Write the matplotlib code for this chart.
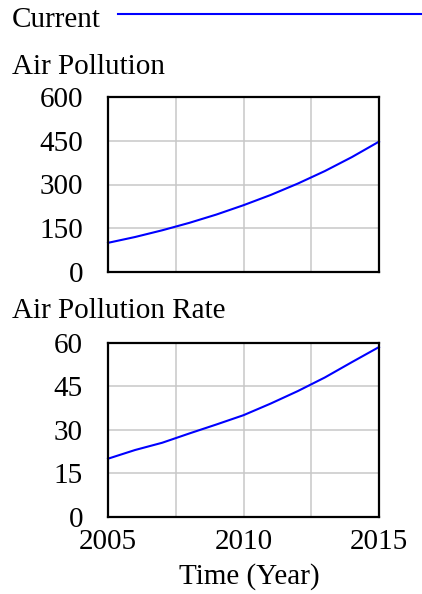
import matplotlib
matplotlib.use("Agg")
import matplotlib.pyplot as plt
from matplotlib.lines import Line2D

years = [2005, 2006, 2007, 2008, 2009, 2010, 2011, 2012, 2013, 2014, 2015]
air_pollution = [100, 120, 143, 168.5, 197, 229, 264, 303, 346, 394, 447]
air_pollution_rate = [20, 23, 25.5, 28.7, 31.8, 35, 39, 43.3, 48, 53.3, 58.5]

top_yticks = [0, 150, 300, 450, 600]
bot_yticks = [0, 15, 30, 45, 60]
xticks = [2005, 2010, 2015]
xgrid = [2005, 2007.5, 2010, 2012.5, 2015]

series_name = "Current"
line_color = "#0000ff"

plt.rcParams['font.family'] = ['Liberation Serif', 'DejaVu Serif']
FS = 21

fig = plt.figure(figsize=(4.22, 5.94), dpi=100)
W, H = 422, 594

def fx(px):
    return px / W

def fy(py):
    return 1 - py / H

ax1 = fig.add_axes([fx(108), fy(272), fx(379) - fx(108), fy(97) - fy(272)])
ax2 = fig.add_axes([fx(108), fy(516.7), fx(379) - fx(108), fy(342.7) - fy(516.7)])

for ax, vals, yt in ((ax1, air_pollution, top_yticks), (ax2, air_pollution_rate, bot_yticks)):
    ax.plot(years, vals, color=line_color, lw=1.5, zorder=3, clip_on=False)
    ax.set_xlim(years[0], years[-1])
    ax.set_ylim(yt[0], yt[-1])
    ax.set_yticks(yt)
    ax.set_yticklabels([str(v) for v in yt], fontsize=FS)
    ax.tick_params(axis='both', length=0, pad=18)
    for y in yt[1:-1]:
        ax.axhline(y, color='#c8c8c8', lw=1.1, zorder=1)
    for x in xgrid[1:-1]:
        ax.axvline(x, color='#c8c8c8', lw=1.1, zorder=1)
    for s in ax.spines.values():
        s.set_linewidth(1.6)
        s.set_color('black')
        s.set_zorder(4)

ax1.set_xticks(xticks)
ax1.set_xticklabels([])
ax2.set_xticks(xticks)
ax2.set_xticklabels([str(v) for v in xticks], fontsize=FS)
ax2.tick_params(axis='x', pad=9)

fig.text(fx(12), fy(27), series_name, fontsize=FS, va='baseline', ha='left')
fig.add_artist(Line2D([fx(118), fx(422)], [fy(14), fy(14)], color=line_color, lw=1.5))
fig.text(fx(12), fy(74), "Air Pollution", fontsize=FS, va='baseline', ha='left')
fig.text(fx(12), fy(318), "Air Pollution Rate", fontsize=FS, va='baseline', ha='left')
fig.text(fx(249), fy(584), "Time (Year)", fontsize=FS, va='baseline', ha='center')

fig.savefig("out.png", dpi=100)
